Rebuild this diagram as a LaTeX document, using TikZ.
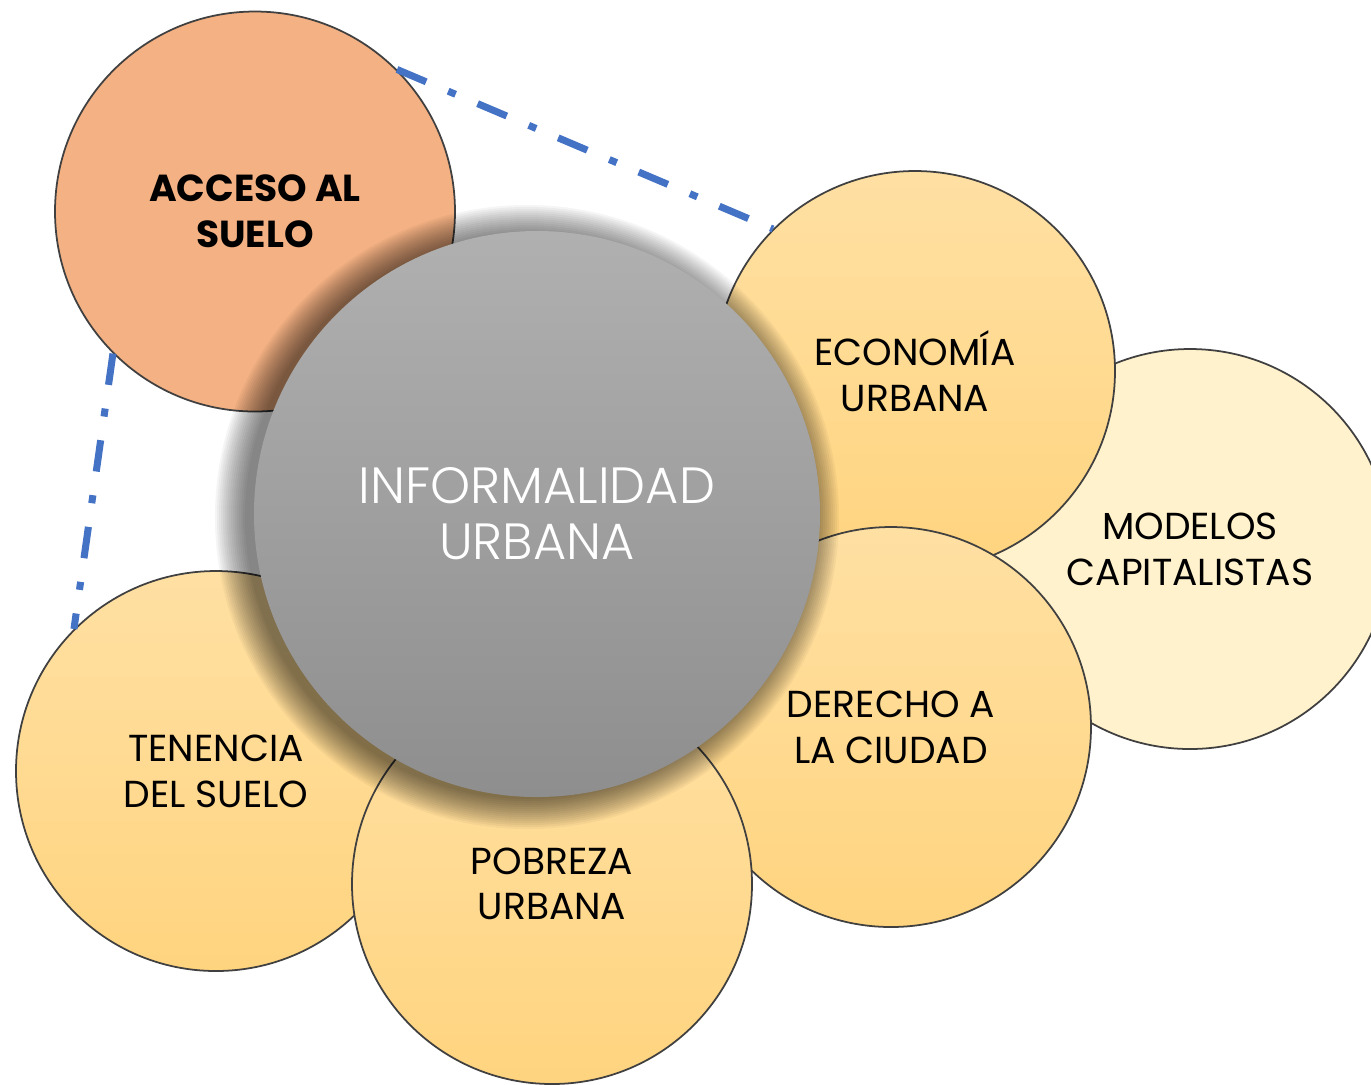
\documentclass[tikz,border=0pt]{standalone}
\usepackage{fontspec}
\setmainfont{Poppins}
\newfontfamily\lightfont{Poppins Light}

\definecolor{salmon}{HTML}{F4B183}
\definecolor{crema}{HTML}{FFF2CC}
\definecolor{amarilloclaro}{HTML}{FFE0A3}
\definecolor{amarillo}{HTML}{FFD47F}
\definecolor{grisclaro}{HTML}{B0B0B0}
\definecolor{grisoscuro}{HTML}{8E8E8E}
\definecolor{enlace}{HTML}{4472C4}

\begin{document}
\begin{tikzpicture}[
    bubble/.style={circle, minimum size=4cm, inner sep=0pt, align=center,
        draw=black!75, line width=0.5pt, font=\fontsize{10.7}{13}\selectfont},
    warm/.style={bubble, top color=amarilloclaro, bottom color=amarillo},
    core/.style={circle, minimum size=5.66cm, inner sep=0pt, align=center,
        top color=grisclaro, bottom color=grisoscuro, text=white,
        font=\lightfont\fontsize{14.5}{16}\selectfont},
    link/.style={enlace, line width=2pt, dash pattern=on 9pt off 6.8pt on 2.3pt off 6.8pt}
    ]
        \useasboundingbox (0,0) rectangle (13.71,-10.84);

        % outer circles
        \node[bubble, fill=crema] (modelos) at (11.90,-5.49) {MODELOS\\CAPITALISTAS};
        \node[warm] (economia) at (9.15,-3.71) {ECONOMÍA\\URBANA};
        \node[warm] (derecho) at (8.91,-7.27) {DERECHO A\\LA CIUDAD};
        \node[bubble, fill=salmon, font=\bfseries\fontsize{10.7}{13}\selectfont] (acceso) at (2.55,-2.115) {ACCESO AL\\SUELO};
        \node[warm] (tenencia) at (2.16,-7.71) {TENENCIA\\DEL SUELO};
        \node[warm] (pobreza) at (5.52,-8.84) {POBREZA\\URBANA};

        % shadow
        \coordinate (sombra) at (5.27,-5.17);
        \foreach \k in {1,...,16}
            \fill[black, opacity=0.04] (sombra) circle ({2.80+0.02*\k});

        % center circle
        \node[core] (informalidad) at (5.37,-5.14) {INFORMALIDAD\\URBANA};

        % links
        \draw[link] (acceso.45) -- (economia.135);
        \draw[link] (acceso.225) -- (tenencia.135);
    \end{tikzpicture}
\end{document}
